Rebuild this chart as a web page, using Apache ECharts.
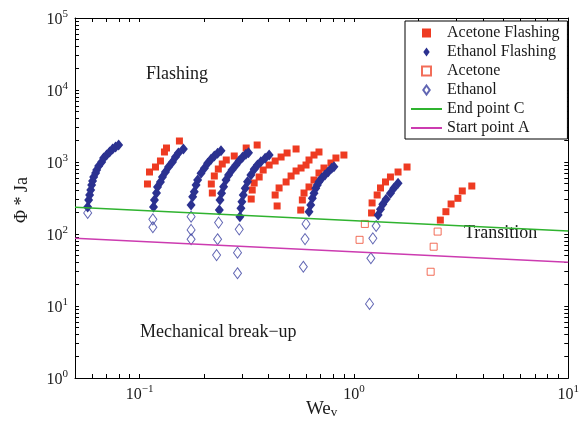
<!DOCTYPE html>
<html>
<head>
<meta charset="utf-8">
<script src="https://cdn.jsdelivr.net/npm/echarts@6/dist/echarts.min.js"></script>
<style>
  html, body { margin: 0; padding: 0; background: #fff; }
  #chart { width: 582px; height: 432px; }
</style>
</head>
<body>
<div id="chart"></div>
<script>
// We_v, Phi*Ja pairs
const acetoneFlashing = [
  [0.1089, 495], [0.1113, 726], [0.1187, 852], [0.1252, 1033], [0.1307, 1377], [0.1336, 1564], [0.1535, 1957],
  [0.2186, 371], [0.2162, 495], [0.2233, 639], [0.2331, 799], [0.2432, 938], [0.2539, 1066], [0.2766, 1211], [0.3145, 1564], [0.3538, 1722],
  [0.3319, 306], [0.3355, 408], [0.3426, 511], [0.3615, 619], [0.3774, 774], [0.4024, 908], [0.4292, 1033], [0.4575, 1173], [0.488, 1334], [0.5374, 1516],
  [0.4384, 245], [0.4292, 348], [0.4478, 436], [0.4828, 528], [0.5093, 639], [0.5374, 750], [0.567, 825], [0.598, 908], [0.6175, 1066], [0.6515, 1250], [0.6873, 1377],
  [0.565, 215], [0.5748, 297], [0.5853, 371], [0.6175, 450], [0.6515, 562], [0.6873, 703], [0.7251, 825], [0.7817, 968], [0.8247, 1136], [0.8984, 1250],
  [1.209, 196], [1.216, 270], [1.284, 348], [1.331, 436], [1.404, 528], [1.481, 619], [1.607, 726], [1.770, 852],
  [2.531, 156], [2.687, 204], [2.841, 261], [3.056, 313], [3.204, 396], [3.549, 464]
];

const ethanolFlashing = [
  [0.0573, 237], [0.0579, 297], [0.0585, 348], [0.0592, 408], [0.0598, 479], [0.0604, 545], [0.0611, 619], [0.0624, 703],
  [0.0631, 774], [0.0645, 880], [0.0666, 1000], [0.068, 1136], [0.0702, 1250], [0.0725, 1377], [0.0749, 1516], [0.0773, 1616], [0.0799, 1722],
  [0.1162, 237], [0.1174, 297], [0.12, 371], [0.1213, 450], [0.1252, 528], [0.1279, 619], [0.1321, 726], [0.1365, 852],
  [0.1424, 1000], [0.1471, 1173], [0.1518, 1334], [0.1602, 1516],
  [0.174, 253], [0.177, 330], [0.18, 387], [0.1835, 479], [0.1867, 562], [0.1936, 697], [0.2007, 818], [0.2078, 960],
  [0.2156, 1090], [0.2233, 1211], [0.2313, 1321], [0.2399, 1435],
  [0.2356, 215], [0.2373, 297], [0.2414, 367], [0.2467, 454], [0.2531, 562], [0.2602, 659], [0.2699, 774], [0.2817, 908],
  [0.2918, 1042], [0.3022, 1162], [0.3135, 1279], [0.3224, 1346],
  [0.294, 174], [0.2972, 227], [0.3003, 281], [0.3046, 348], [0.3112, 431], [0.319, 533], [0.3307, 659], [0.3426, 792],
  [0.3549, 908], [0.3681, 1010], [0.3855, 1125], [0.4024, 1250],
  [0.6175, 204], [0.629, 253], [0.64, 313], [0.6515, 367], [0.6637, 431], [0.675, 479], [0.6873, 533], [0.7077, 594],
  [0.733, 659], [0.7594, 734], [0.7876, 818], [0.807, 860],
  [1.297, 184], [1.331, 220], [1.364, 259], [1.413, 303], [1.481, 367], [1.535, 431], [1.607, 506]
];

const acetone = [
  [1.125, 138], [1.063, 83], [2.459, 108], [2.356, 66.6], [2.281, 29.9]
];

const ethanol = [
  [0.0573, 196],
  [0.1154, 160], [0.1154, 124],
  [0.174, 174], [0.174, 114], [0.174, 84.5],
  [0.2338, 144], [0.2313, 84.5], [0.2288, 51],
  [0.2918, 116], [0.2865, 55], [0.2865, 28.5],
  [0.598, 138], [0.5917, 85], [0.581, 35.1],
  [1.27, 129], [1.226, 87.1], [1.2, 46], [1.183, 10.7]
];

const endPointC = [[0.05, 235], [10, 110]];
const startPointA = [[0.05, 87], [10, 40.5]];

const xTickValues = [0.05, 0.06, 0.07, 0.08, 0.09, 0.1, 0.2, 0.3, 0.4, 0.5, 0.6, 0.7, 0.8, 0.9, 1, 2, 3, 4, 5, 6, 7, 8, 9, 10];
const xLabelValues = [0.1, 1, 10];
const yLabelValues = [1, 10, 100, 1000, 10000, 100000];

const serif = '"Liberation Serif", "DejaVu Serif", serif';
const ink = '#1a1a1a';

const yTickValues = [];
yLabelValues.forEach(function (d, i) {
  if (i === yLabelValues.length - 1) { yTickValues.push(d); return; }
  for (let k = 1; k < 10; k++) yTickValues.push(d * k);
});

function powerLabel(v) {
  const e = Math.round(Math.log10(v));
  return '{b|10}{s|' + (e < 0 ? '\u2212' + (-e) : e) + '}';
}

const labelRich = {
  b: { fontFamily: serif, fontSize: 16, color: ink, lineHeight: 19, verticalAlign: 'bottom' },
  s: { fontFamily: serif, fontSize: 11, color: ink, lineHeight: 11, verticalAlign: 'top' }
};

function logAxis(extra) {
  return Object.assign({
    type: 'log',
    logBase: 10,
    axisLine: { show: true, lineStyle: { color: '#000', width: 1 } },
    splitLine: { show: false },
    minorTick: { show: false }
  }, extra);
}

const squareIcon = 'path://M0,0H10V10H0Z';
const diamondIcon = 'path://M5,0L10,7L5,14L0,7Z';
const squareHollow = 'path://M1,1H9V9H1Z';
const lineIcon = 'path://M0,0H31V2H0Z';

const chart = echarts.init(document.getElementById('chart'), null, { renderer: 'canvas' });

chart.setOption({
  animation: false,
  backgroundColor: '#fff',
  grid: { left: 75, right: 12, top: 18, bottom: 54, containLabel: false },
  xAxis: [
    logAxis({
      min: 0.05, max: 10, position: 'bottom',
      name: 'We{sub|v}', nameLocation: 'middle', nameGap: 22, nameMoveOverlap: false,
      nameTextStyle: {
        fontFamily: serif, fontSize: 19, color: ink,
        rich: { sub: { fontFamily: serif, fontSize: 13, color: ink, verticalAlign: 'bottom', lineHeight: 8, padding: [9, 0, 0, 0] } }
      },
      axisTick: { show: true, inside: true, length: 4, customValues: xTickValues, lineStyle: { color: '#000' } },
      axisLabel: { show: true, margin: 6, customValues: xLabelValues, formatter: powerLabel, rich: labelRich }
    }),
    logAxis({
      min: 0.05, max: 10, position: 'top',
      axisTick: { show: true, inside: true, length: 4, customValues: xTickValues, lineStyle: { color: '#000' } },
      axisLabel: { show: false }
    })
  ],
  yAxis: [
    logAxis({
      min: 1, max: 100000, position: 'left',
      axisTick: { show: true, inside: true, length: 4, customValues: yTickValues, lineStyle: { color: '#000' } },
      axisLabel: { show: true, margin: 7, customValues: yLabelValues, formatter: powerLabel, rich: labelRich }
    }),
    logAxis({
      min: 1, max: 100000, position: 'right',
      axisTick: { show: true, inside: true, length: 4, customValues: yTickValues, lineStyle: { color: '#000' } },
      axisLabel: { show: false }
    })
  ],
  legend: {
    orient: 'vertical',
    left: 405, top: 21,
    backgroundColor: '#fff',
    borderColor: '#000', borderWidth: 1, borderRadius: 0,
    padding: [4, 8, 3, 6],
    itemGap: 3, itemWidth: 31, itemHeight: 9,
    symbolKeepAspect: true,
    textStyle: { fontFamily: serif, fontSize: 16, color: ink, lineHeight: 14 },
    data: [
      { name: 'Acetone Flashing', icon: squareIcon },
      { name: 'Ethanol Flashing', icon: diamondIcon },
      { name: 'Acetone', icon: squareHollow },
      { name: 'Ethanol', icon: diamondIcon },
      { name: 'End point C', icon: lineIcon },
      { name: 'Start point A', icon: lineIcon }
    ]
  },
  graphic: [
    { type: 'text', left: 146, top: 65, style: { text: 'Flashing', font: '18px ' + serif, fill: ink } },
    { type: 'text', left: 464, top: 224, style: { text: 'Transition', font: '18px ' + serif, fill: ink } },
    { type: 'text', left: 140, top: 323, style: { text: 'Mechanical break\u2212up', font: '18px ' + serif, fill: ink } },
    { type: 'text', x: 22, y: 200, rotation: Math.PI / 2, style: { text: '\u03A6 * Ja', font: '18px ' + serif, fill: ink, align: 'center', verticalAlign: 'middle' } }
  ],
  series: [
    {
      name: 'Acetone Flashing', type: 'scatter', data: acetoneFlashing,
      symbol: 'rect', symbolSize: 7,
      itemStyle: { color: '#ee3b22', opacity: 1 }
    },
    {
      name: 'Ethanol Flashing', type: 'scatter', data: ethanolFlashing,
      symbol: 'diamond', symbolSize: [9, 11],
      itemStyle: { color: '#2b3190', opacity: 1 }
    },
    {
      name: 'Acetone', type: 'scatter', data: acetone,
      symbol: 'rect', symbolSize: 7,
      itemStyle: { color: 'rgba(255,255,255,0)', borderColor: '#ef4a30', borderWidth: 1 }
    },
    {
      name: 'Ethanol', type: 'scatter', data: ethanol,
      symbol: 'diamond', symbolSize: [8, 11],
      itemStyle: { color: 'rgba(255,255,255,0)', borderColor: '#3a40a0', borderWidth: 1 }
    },
    {
      name: 'End point C', type: 'line', data: endPointC,
      symbol: 'none', lineStyle: { color: '#2fb32f', width: 1.5 }, itemStyle: { color: '#2fb32f' }
    },
    {
      name: 'Start point A', type: 'line', data: startPointA,
      symbol: 'none', lineStyle: { color: '#cc3bb0', width: 1.5 }, itemStyle: { color: '#cc3bb0' }
    }
  ]
});
</script>
</body>
</html>
